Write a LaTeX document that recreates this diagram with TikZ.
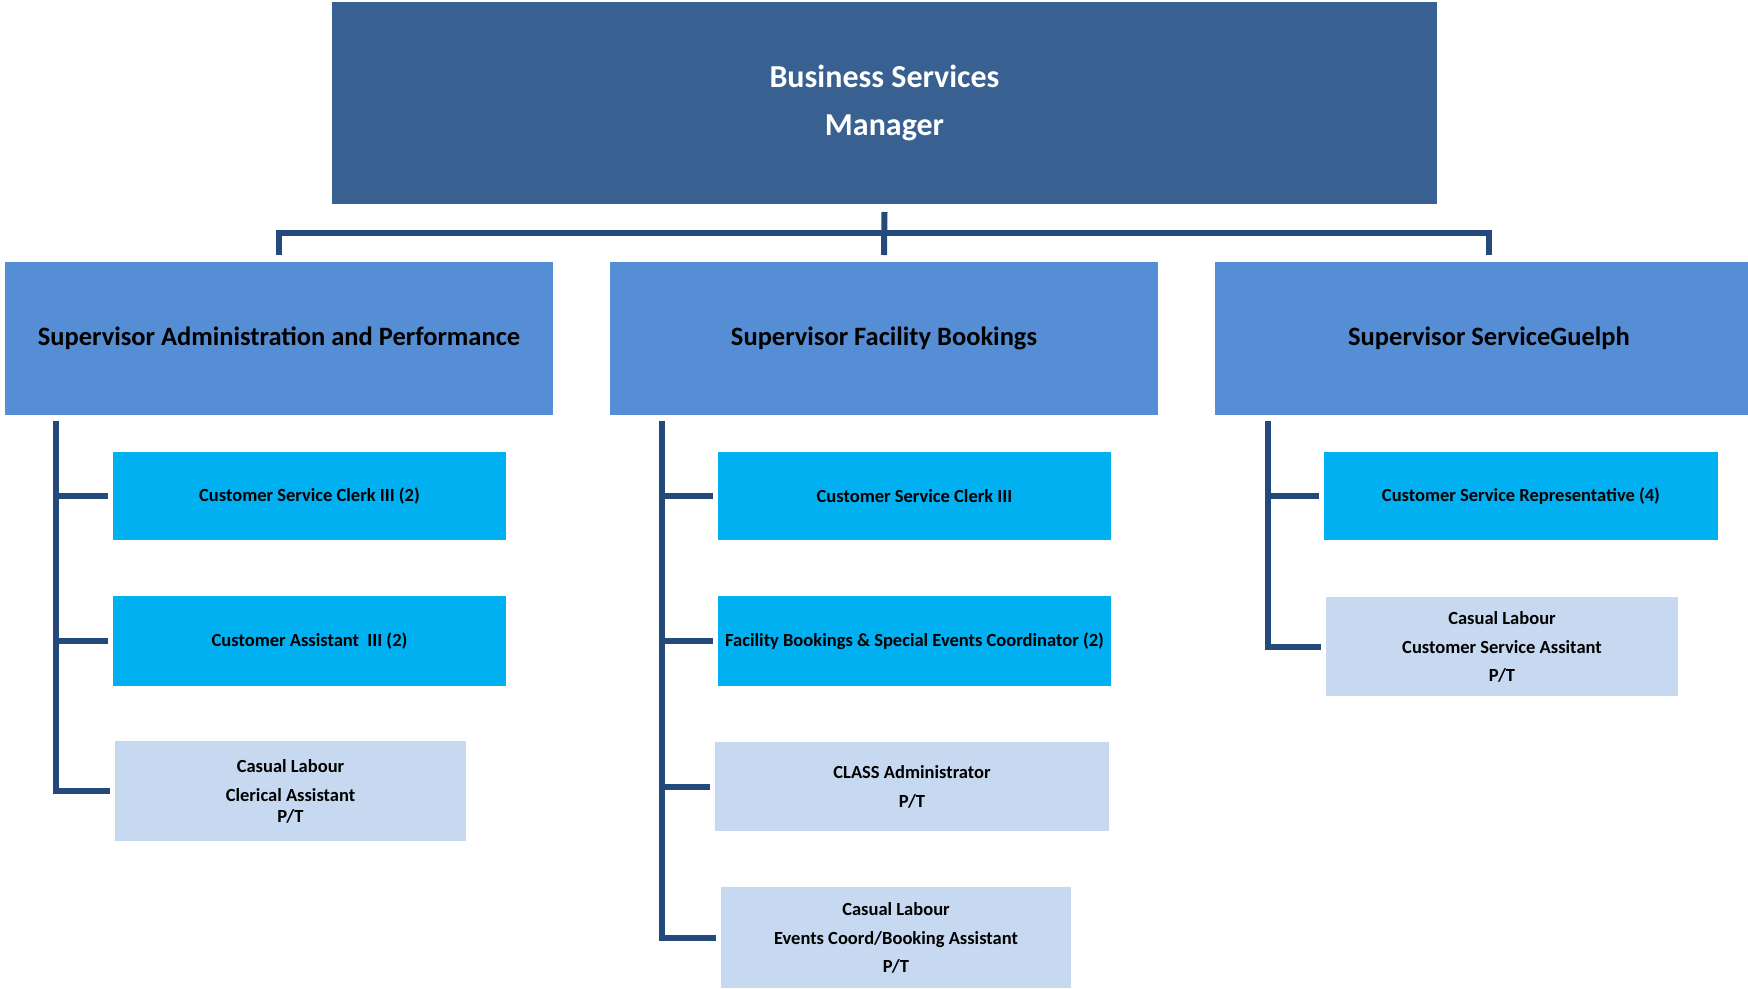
\documentclass[tikz,border=0pt]{standalone}
\usepackage{fontspec}
\setmainfont{Carlito}
\definecolor{topblue}{RGB}{56,97,146}
\definecolor{supblue}{RGB}{85,142,213}
\definecolor{cyanbox}{RGB}{0,176,240}
\definecolor{lightbox}{RGB}{198,217,241}
\definecolor{connblue}{RGB}{36,74,124}
\begin{document}
\begin{tikzpicture}[x=1pt,y=-1pt,
  box/.style={rectangle,inner sep=0pt,outer sep=0pt,align=center,font=\bfseries},
  topbox/.style={box,fill=topblue,text=white,font=\bfseries\fontsize{32}{48}\selectfont},
  supbox/.style={box,fill=supblue,text=black,font=\bfseries\fontsize{26.5}{30}\selectfont,minimum width=548pt,minimum height=153pt},
  cbox/.style={box,fill=cyanbox,text=black,font=\bfseries\fontsize{18.5}{22}\selectfont,minimum width=393pt},
  lbox/.style={box,fill=lightbox,text=black,font=\bfseries\fontsize{18.5}{21}\selectfont},
  conn/.style={draw=connblue,line width=6pt}]
\useasboundingbox (0,0) rectangle (1748,988);
\begin{scope}
\clip (0,0) rectangle (1748,988);
\node[topbox,minimum width=1105pt,minimum height=202pt] (top) at (884.5,103) {Business Services\\Manager};
\node[supbox] (s1) at (279,338.5) {Supervisor Administration and Performance};
\node[supbox] (s2) at (884,338.5) {Supervisor Facility Bookings};
\node[supbox] (s3) at (1489,338.5) {Supervisor ServiceGuelph};

\node[cbox,minimum height=88pt] (a1) at (309.5,496) {Customer Service Clerk III (2)};
\node[cbox,minimum height=90pt] (a2) at (309.5,641) {Customer Assistant\ \ III (2)};
\node[lbox,minimum width=351pt,minimum height=100pt] (a3) at (290.5,791) {Casual Labour\\[8pt]Clerical Assistant\\P/T};

\node[cbox,minimum height=88pt] (b1) at (914.5,496) {Customer Service Clerk III};
\node[cbox,minimum height=90pt] (b2) at (914.5,641) {Facility Bookings \& Special Events Coordinator (2)};
\node[lbox,minimum width=394pt,minimum height=89pt] (b3) at (912,786.5) {CLASS Administrator\\[8pt]P/T};
\node[lbox,minimum width=350pt,minimum height=101pt] (b4) at (896,937.5) {Casual Labour\\[8pt]Events Coord/Booking Assistant\\[7pt]P/T};

\node[cbox,minimum width=394pt,minimum height=88pt] (c1) at (1521,496) {Customer Service Representative (4)};
\node[lbox,minimum width=352pt,minimum height=99pt] (c2) at (1502,646.5) {Casual Labour\\[8pt]Customer Service Assitant\\[7pt]P/T};

% top-level connectors
\coordinate (bar) at (884,233);
\draw[conn] ([yshift=-8pt]top.south) -- ([yshift=7pt]s2.north);
\draw[conn] ([yshift=7pt]s1.north) |- (bar) -| ([yshift=7pt]s3.north);

% column 1
\coordinate (v1) at (56,421);
\draw[conn] (v1) |- ([xshift=-5pt]a3.west);
\draw[conn] (v1 |- a1.west) -- ([xshift=-5pt]a1.west);
\draw[conn] (v1 |- a2.west) -- ([xshift=-5pt]a2.west);

% column 2
\coordinate (v2) at (662,421);
\draw[conn] (v2) |- ([xshift=-5pt]b4.west);
\draw[conn] (v2 |- b1.west) -- ([xshift=-5pt]b1.west);
\draw[conn] (v2 |- b2.west) -- ([xshift=-5pt]b2.west);
\draw[conn] (v2 |- b3.west) -- ([xshift=-5pt]b3.west);

% column 3
\coordinate (v3) at (1268,421);
\draw[conn] (v3) |- ([xshift=-5pt]c2.west);
\draw[conn] (v3 |- c1.west) -- ([xshift=-5pt]c1.west);
\end{scope}
\end{tikzpicture}
\end{document}
